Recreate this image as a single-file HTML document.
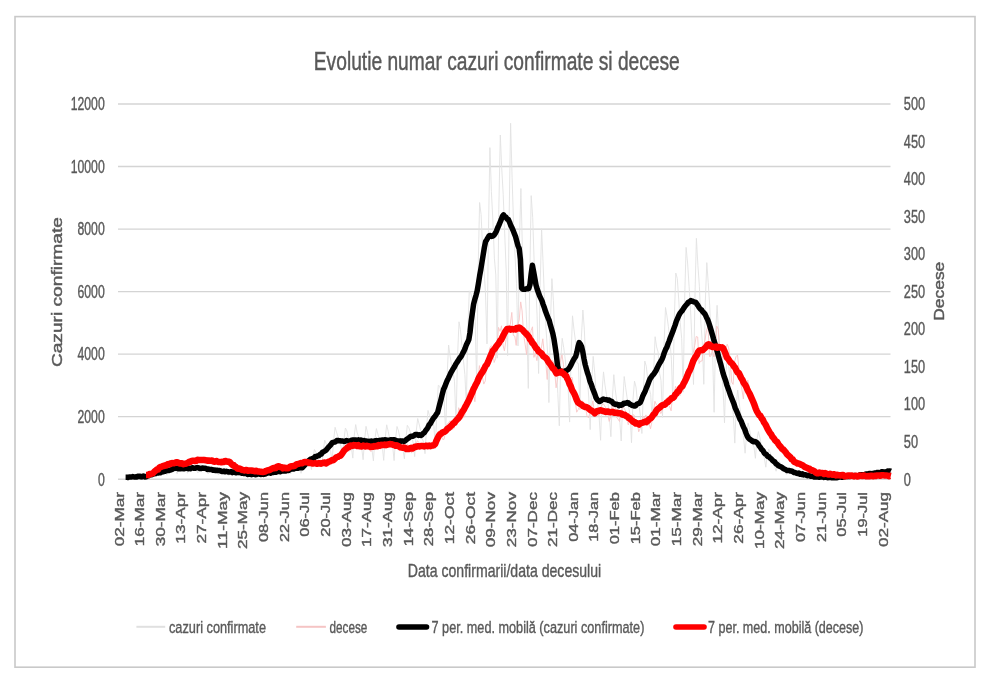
<!DOCTYPE html>
<html><head><meta charset="utf-8"><style>
html,body{margin:0;padding:0;background:#fff;}
svg{display:block;font-family:"Liberation Sans", sans-serif;filter:blur(0.45px);}
</style></head><body>
<svg width="1000" height="688" viewBox="0 0 1000 688">
<rect x="15" y="16.6" width="960" height="650.6" fill="#fff" stroke="#c9c9c9" stroke-width="1.6"/>
<line x1="118.0" y1="479.20" x2="890.5" y2="479.20" stroke="#d4d4d4" stroke-width="1.4"/>
<line x1="118.0" y1="416.67" x2="890.5" y2="416.67" stroke="#d4d4d4" stroke-width="1.4"/>
<line x1="118.0" y1="354.14" x2="890.5" y2="354.14" stroke="#d4d4d4" stroke-width="1.4"/>
<line x1="118.0" y1="291.61" x2="890.5" y2="291.61" stroke="#d4d4d4" stroke-width="1.4"/>
<line x1="118.0" y1="229.08" x2="890.5" y2="229.08" stroke="#d4d4d4" stroke-width="1.4"/>
<line x1="118.0" y1="166.55" x2="890.5" y2="166.55" stroke="#d4d4d4" stroke-width="1.4"/>
<line x1="118.0" y1="104.02" x2="890.5" y2="104.02" stroke="#d4d4d4" stroke-width="1.4"/>
<text x="313.80" y="69.80" font-size="26.00" fill="#595959" textLength="366.00" lengthAdjust="spacingAndGlyphs" stroke="#595959" stroke-width="0.45">Evolutie numar cazuri confirmate si decese</text>
<text x="104.70" y="485.50" font-size="17.50" fill="#595959" text-anchor="end" textLength="6.80" lengthAdjust="spacingAndGlyphs" stroke="#595959" stroke-width="0.38">0</text>
<text x="104.70" y="422.97" font-size="17.50" fill="#595959" text-anchor="end" textLength="27.20" lengthAdjust="spacingAndGlyphs" stroke="#595959" stroke-width="0.38">2000</text>
<text x="104.70" y="360.44" font-size="17.50" fill="#595959" text-anchor="end" textLength="27.20" lengthAdjust="spacingAndGlyphs" stroke="#595959" stroke-width="0.38">4000</text>
<text x="104.70" y="297.91" font-size="17.50" fill="#595959" text-anchor="end" textLength="27.20" lengthAdjust="spacingAndGlyphs" stroke="#595959" stroke-width="0.38">6000</text>
<text x="104.70" y="235.38" font-size="17.50" fill="#595959" text-anchor="end" textLength="27.20" lengthAdjust="spacingAndGlyphs" stroke="#595959" stroke-width="0.38">8000</text>
<text x="104.70" y="172.85" font-size="17.50" fill="#595959" text-anchor="end" textLength="34.00" lengthAdjust="spacingAndGlyphs" stroke="#595959" stroke-width="0.38">10000</text>
<text x="104.70" y="110.32" font-size="17.50" fill="#595959" text-anchor="end" textLength="34.00" lengthAdjust="spacingAndGlyphs" stroke="#595959" stroke-width="0.38">12000</text>
<text x="903.80" y="485.50" font-size="17.50" fill="#595959" textLength="7.10" lengthAdjust="spacingAndGlyphs" stroke="#595959" stroke-width="0.38">0</text>
<text x="903.80" y="447.98" font-size="17.50" fill="#595959" textLength="14.20" lengthAdjust="spacingAndGlyphs" stroke="#595959" stroke-width="0.38">50</text>
<text x="903.80" y="410.46" font-size="17.50" fill="#595959" textLength="21.30" lengthAdjust="spacingAndGlyphs" stroke="#595959" stroke-width="0.38">100</text>
<text x="903.80" y="372.94" font-size="17.50" fill="#595959" textLength="21.30" lengthAdjust="spacingAndGlyphs" stroke="#595959" stroke-width="0.38">150</text>
<text x="903.80" y="335.42" font-size="17.50" fill="#595959" textLength="21.30" lengthAdjust="spacingAndGlyphs" stroke="#595959" stroke-width="0.38">200</text>
<text x="903.80" y="297.90" font-size="17.50" fill="#595959" textLength="21.30" lengthAdjust="spacingAndGlyphs" stroke="#595959" stroke-width="0.38">250</text>
<text x="903.80" y="260.38" font-size="17.50" fill="#595959" textLength="21.30" lengthAdjust="spacingAndGlyphs" stroke="#595959" stroke-width="0.38">300</text>
<text x="903.80" y="222.86" font-size="17.50" fill="#595959" textLength="21.30" lengthAdjust="spacingAndGlyphs" stroke="#595959" stroke-width="0.38">350</text>
<text x="903.80" y="185.34" font-size="17.50" fill="#595959" textLength="21.30" lengthAdjust="spacingAndGlyphs" stroke="#595959" stroke-width="0.38">400</text>
<text x="903.80" y="147.82" font-size="17.50" fill="#595959" textLength="21.30" lengthAdjust="spacingAndGlyphs" stroke="#595959" stroke-width="0.38">450</text>
<text x="903.80" y="110.30" font-size="17.50" fill="#595959" textLength="21.30" lengthAdjust="spacingAndGlyphs" stroke="#595959" stroke-width="0.38">500</text>
<text x="123.50" y="492.00" font-size="11.90" fill="#595959" text-anchor="end" textLength="54.31" lengthAdjust="spacingAndGlyphs" transform="rotate(-90 123.50 492.00)" stroke="#595959" stroke-width="0.38">02-Mar</text>
<text x="144.15" y="492.00" font-size="11.90" fill="#595959" text-anchor="end" textLength="54.31" lengthAdjust="spacingAndGlyphs" transform="rotate(-90 144.15 492.00)" stroke="#595959" stroke-width="0.38">16-Mar</text>
<text x="164.80" y="492.00" font-size="11.90" fill="#595959" text-anchor="end" textLength="54.31" lengthAdjust="spacingAndGlyphs" transform="rotate(-90 164.80 492.00)" stroke="#595959" stroke-width="0.38">30-Mar</text>
<text x="185.45" y="492.00" font-size="11.90" fill="#595959" text-anchor="end" textLength="51.61" lengthAdjust="spacingAndGlyphs" transform="rotate(-90 185.45 492.00)" stroke="#595959" stroke-width="0.38">13-Apr</text>
<text x="206.10" y="492.00" font-size="11.90" fill="#595959" text-anchor="end" textLength="51.61" lengthAdjust="spacingAndGlyphs" transform="rotate(-90 206.10 492.00)" stroke="#595959" stroke-width="0.38">27-Apr</text>
<text x="226.75" y="492.00" font-size="11.90" fill="#595959" text-anchor="end" textLength="56.98" lengthAdjust="spacingAndGlyphs" transform="rotate(-90 226.75 492.00)" stroke="#595959" stroke-width="0.38">11-May</text>
<text x="247.40" y="492.00" font-size="11.90" fill="#595959" text-anchor="end" textLength="57.05" lengthAdjust="spacingAndGlyphs" transform="rotate(-90 247.40 492.00)" stroke="#595959" stroke-width="0.38">25-May</text>
<text x="268.05" y="492.00" font-size="11.90" fill="#595959" text-anchor="end" textLength="50.01" lengthAdjust="spacingAndGlyphs" transform="rotate(-90 268.05 492.00)" stroke="#595959" stroke-width="0.38">08-Jun</text>
<text x="288.70" y="492.00" font-size="11.90" fill="#595959" text-anchor="end" textLength="50.01" lengthAdjust="spacingAndGlyphs" transform="rotate(-90 288.70 492.00)" stroke="#595959" stroke-width="0.38">22-Jun</text>
<text x="309.35" y="492.00" font-size="11.90" fill="#595959" text-anchor="end" textLength="44.72" lengthAdjust="spacingAndGlyphs" transform="rotate(-90 309.35 492.00)" stroke="#595959" stroke-width="0.38">06-Jul</text>
<text x="330.00" y="492.00" font-size="11.90" fill="#595959" text-anchor="end" textLength="44.72" lengthAdjust="spacingAndGlyphs" transform="rotate(-90 330.00 492.00)" stroke="#595959" stroke-width="0.38">20-Jul</text>
<text x="350.65" y="492.00" font-size="11.90" fill="#595959" text-anchor="end" textLength="54.90" lengthAdjust="spacingAndGlyphs" transform="rotate(-90 350.65 492.00)" stroke="#595959" stroke-width="0.38">03-Aug</text>
<text x="371.30" y="492.00" font-size="11.90" fill="#595959" text-anchor="end" textLength="54.90" lengthAdjust="spacingAndGlyphs" transform="rotate(-90 371.30 492.00)" stroke="#595959" stroke-width="0.38">17-Aug</text>
<text x="391.95" y="492.00" font-size="11.90" fill="#595959" text-anchor="end" textLength="54.90" lengthAdjust="spacingAndGlyphs" transform="rotate(-90 391.95 492.00)" stroke="#595959" stroke-width="0.38">31-Aug</text>
<text x="412.60" y="492.00" font-size="11.90" fill="#595959" text-anchor="end" textLength="54.28" lengthAdjust="spacingAndGlyphs" transform="rotate(-90 412.60 492.00)" stroke="#595959" stroke-width="0.38">14-Sep</text>
<text x="433.25" y="492.00" font-size="11.90" fill="#595959" text-anchor="end" textLength="54.28" lengthAdjust="spacingAndGlyphs" transform="rotate(-90 433.25 492.00)" stroke="#595959" stroke-width="0.38">28-Sep</text>
<text x="453.90" y="492.00" font-size="11.90" fill="#595959" text-anchor="end" textLength="52.22" lengthAdjust="spacingAndGlyphs" transform="rotate(-90 453.90 492.00)" stroke="#595959" stroke-width="0.38">12-Oct</text>
<text x="474.55" y="492.00" font-size="11.90" fill="#595959" text-anchor="end" textLength="52.22" lengthAdjust="spacingAndGlyphs" transform="rotate(-90 474.55 492.00)" stroke="#595959" stroke-width="0.38">26-Oct</text>
<text x="495.20" y="492.00" font-size="11.90" fill="#595959" text-anchor="end" textLength="55.35" lengthAdjust="spacingAndGlyphs" transform="rotate(-90 495.20 492.00)" stroke="#595959" stroke-width="0.38">09-Nov</text>
<text x="515.85" y="492.00" font-size="11.90" fill="#595959" text-anchor="end" textLength="55.35" lengthAdjust="spacingAndGlyphs" transform="rotate(-90 515.85 492.00)" stroke="#595959" stroke-width="0.38">23-Nov</text>
<text x="536.50" y="492.00" font-size="11.90" fill="#595959" text-anchor="end" textLength="55.04" lengthAdjust="spacingAndGlyphs" transform="rotate(-90 536.50 492.00)" stroke="#595959" stroke-width="0.38">07-Dec</text>
<text x="557.15" y="492.00" font-size="11.90" fill="#595959" text-anchor="end" textLength="55.04" lengthAdjust="spacingAndGlyphs" transform="rotate(-90 557.15 492.00)" stroke="#595959" stroke-width="0.38">21-Dec</text>
<text x="577.80" y="492.00" font-size="11.90" fill="#595959" text-anchor="end" textLength="49.70" lengthAdjust="spacingAndGlyphs" transform="rotate(-90 577.80 492.00)" stroke="#595959" stroke-width="0.38">04-Jan</text>
<text x="598.45" y="492.00" font-size="11.90" fill="#595959" text-anchor="end" textLength="49.70" lengthAdjust="spacingAndGlyphs" transform="rotate(-90 598.45 492.00)" stroke="#595959" stroke-width="0.38">18-Jan</text>
<text x="619.10" y="492.00" font-size="11.90" fill="#595959" text-anchor="end" textLength="52.33" lengthAdjust="spacingAndGlyphs" transform="rotate(-90 619.10 492.00)" stroke="#595959" stroke-width="0.38">01-Feb</text>
<text x="639.75" y="492.00" font-size="11.90" fill="#595959" text-anchor="end" textLength="52.33" lengthAdjust="spacingAndGlyphs" transform="rotate(-90 639.75 492.00)" stroke="#595959" stroke-width="0.38">15-Feb</text>
<text x="660.40" y="492.00" font-size="11.90" fill="#595959" text-anchor="end" textLength="54.31" lengthAdjust="spacingAndGlyphs" transform="rotate(-90 660.40 492.00)" stroke="#595959" stroke-width="0.38">01-Mar</text>
<text x="681.05" y="492.00" font-size="11.90" fill="#595959" text-anchor="end" textLength="54.31" lengthAdjust="spacingAndGlyphs" transform="rotate(-90 681.05 492.00)" stroke="#595959" stroke-width="0.38">15-Mar</text>
<text x="701.70" y="492.00" font-size="11.90" fill="#595959" text-anchor="end" textLength="54.31" lengthAdjust="spacingAndGlyphs" transform="rotate(-90 701.70 492.00)" stroke="#595959" stroke-width="0.38">29-Mar</text>
<text x="722.35" y="492.00" font-size="11.90" fill="#595959" text-anchor="end" textLength="51.61" lengthAdjust="spacingAndGlyphs" transform="rotate(-90 722.35 492.00)" stroke="#595959" stroke-width="0.38">12-Apr</text>
<text x="743.00" y="492.00" font-size="11.90" fill="#595959" text-anchor="end" textLength="51.61" lengthAdjust="spacingAndGlyphs" transform="rotate(-90 743.00 492.00)" stroke="#595959" stroke-width="0.38">26-Apr</text>
<text x="763.65" y="492.00" font-size="11.90" fill="#595959" text-anchor="end" textLength="57.05" lengthAdjust="spacingAndGlyphs" transform="rotate(-90 763.65 492.00)" stroke="#595959" stroke-width="0.38">10-May</text>
<text x="784.30" y="492.00" font-size="11.90" fill="#595959" text-anchor="end" textLength="57.05" lengthAdjust="spacingAndGlyphs" transform="rotate(-90 784.30 492.00)" stroke="#595959" stroke-width="0.38">24-May</text>
<text x="804.95" y="492.00" font-size="11.90" fill="#595959" text-anchor="end" textLength="50.01" lengthAdjust="spacingAndGlyphs" transform="rotate(-90 804.95 492.00)" stroke="#595959" stroke-width="0.38">07-Jun</text>
<text x="825.60" y="492.00" font-size="11.90" fill="#595959" text-anchor="end" textLength="50.01" lengthAdjust="spacingAndGlyphs" transform="rotate(-90 825.60 492.00)" stroke="#595959" stroke-width="0.38">21-Jun</text>
<text x="846.25" y="492.00" font-size="11.90" fill="#595959" text-anchor="end" textLength="44.72" lengthAdjust="spacingAndGlyphs" transform="rotate(-90 846.25 492.00)" stroke="#595959" stroke-width="0.38">05-Jul</text>
<text x="866.90" y="492.00" font-size="11.90" fill="#595959" text-anchor="end" textLength="44.72" lengthAdjust="spacingAndGlyphs" transform="rotate(-90 866.90 492.00)" stroke="#595959" stroke-width="0.38">19-Jul</text>
<text x="887.55" y="492.00" font-size="11.90" fill="#595959" text-anchor="end" textLength="54.90" lengthAdjust="spacingAndGlyphs" transform="rotate(-90 887.55 492.00)" stroke="#595959" stroke-width="0.38">02-Aug</text>
<text x="62.00" y="367.10" font-size="14.90" fill="#595959" textLength="150.00" lengthAdjust="spacingAndGlyphs" transform="rotate(-90 62.00 367.10)" stroke="#595959" stroke-width="0.45">Cazuri confirmate</text>
<text x="944.00" y="320.70" font-size="14.20" fill="#595959" textLength="59.00" lengthAdjust="spacingAndGlyphs" transform="rotate(-90 944.00 320.70)" stroke="#595959" stroke-width="0.45">Decese</text>
<text x="407.80" y="576.90" font-size="17.90" fill="#595959" textLength="193.40" lengthAdjust="spacingAndGlyphs" stroke="#595959" stroke-width="0.38">Data confirmarii/data decesului</text>
<line x1="136.4" y1="626.8" x2="165.2" y2="626.8" stroke="#e0e0e0" stroke-width="2"/>
<text x="169.00" y="632.70" font-size="16.70" fill="#595959" textLength="97.00" lengthAdjust="spacingAndGlyphs" stroke="#595959" stroke-width="0.38">cazuri confirmate</text>
<line x1="296.2" y1="626.8" x2="325.9" y2="626.8" stroke="#f5c4c4" stroke-width="2"/>
<text x="329.50" y="632.70" font-size="16.70" fill="#595959" textLength="37.80" lengthAdjust="spacingAndGlyphs" stroke="#595959" stroke-width="0.38">decese</text>
<line x1="399" y1="627" x2="426.5" y2="627" stroke="#000" stroke-width="5.6" stroke-linecap="round"/>
<text x="431.50" y="632.70" font-size="16.70" fill="#595959" textLength="212.90" lengthAdjust="spacingAndGlyphs" stroke="#595959" stroke-width="0.38">7 per. med. mobilă (cazuri confirmate)</text>
<line x1="676" y1="627" x2="704" y2="627" stroke="#ff0000" stroke-width="5.6" stroke-linecap="round"/>
<text x="708.00" y="632.70" font-size="16.70" fill="#595959" textLength="155.50" lengthAdjust="spacingAndGlyphs" stroke="#595959" stroke-width="0.38">7 per. med. mobilă (decese)</text>
<path d="M125.6,478.2 L127.1,477.1 L128.5,476.4 L130.0,476.5 L131.5,476.8 L133.0,477.1 L134.4,477.4 L135.9,478.0 L137.4,476.7 L138.9,475.8 L140.3,475.9 L141.8,476.3 L143.3,476.7 L144.8,477.0 L146.2,477.8 L147.7,475.5 L149.2,474.1 L150.7,474.0 L152.1,474.2 L153.6,474.3 L155.1,475.1 L156.6,476.3 L158.0,472.8 L159.5,470.5 L161.0,470.4 L162.5,471.3 L163.9,471.6 L165.4,472.4 L166.9,475.1 L168.4,469.8 L169.8,466.6 L171.3,467.6 L172.8,468.5 L174.3,469.0 L175.7,471.0 L177.2,473.8 L178.7,468.0 L180.2,464.5 L181.6,466.4 L183.1,467.3 L184.6,469.1 L186.1,470.0 L187.5,473.3 L189.0,468.1 L190.5,464.5 L192.0,466.0 L193.4,467.0 L194.9,468.7 L196.4,470.2 L197.9,473.0 L199.3,467.9 L200.8,464.5 L202.3,466.1 L203.8,468.0 L205.2,469.8 L206.7,471.3 L208.2,473.9 L209.7,469.0 L211.1,466.1 L212.6,467.5 L214.1,469.7 L215.6,470.7 L217.0,471.8 L218.5,475.0 L220.0,470.3 L221.5,468.0 L222.9,469.1 L224.4,470.4 L225.9,472.1 L227.4,472.9 L228.8,475.6 L230.3,471.6 L231.8,469.6 L233.3,471.0 L234.7,471.9 L236.2,473.0 L237.7,473.8 L239.2,476.0 L240.6,472.9 L242.1,471.1 L243.6,472.2 L245.1,473.3 L246.5,474.0 L248.0,475.1 L249.5,476.8 L251.0,474.2 L252.4,472.6 L253.9,473.4 L255.4,473.8 L256.9,474.4 L258.3,475.0 L259.8,476.4 L261.3,474.0 L262.8,472.2 L264.2,472.7 L265.7,473.3 L267.2,473.7 L268.7,474.4 L270.1,475.9 L271.6,472.2 L273.1,469.9 L274.6,470.6 L276.0,471.5 L277.5,472.5 L279.0,473.1 L280.5,474.9 L281.9,471.0 L283.4,468.4 L284.9,468.8 L286.4,470.1 L287.8,470.7 L289.3,471.5 L290.8,473.8 L292.3,469.0 L293.8,465.3 L295.2,466.0 L296.7,467.3 L298.2,468.6 L299.7,469.8 L301.1,473.3 L302.6,466.3 L304.1,460.9 L305.6,460.3 L307.0,460.9 L308.5,462.5 L310.0,462.7 L311.5,469.5 L312.9,457.7 L314.4,449.5 L315.9,452.2 L317.4,454.5 L318.8,455.4 L320.3,459.8 L321.8,466.5 L323.3,451.4 L324.7,440.1 L326.2,443.8 L327.7,447.0 L329.2,447.8 L330.6,451.2 L332.1,461.3 L333.6,440.3 L335.1,427.3 L336.5,432.2 L338.0,436.6 L339.5,442.2 L341.0,446.5 L342.4,457.6 L343.9,440.1 L345.4,428.0 L346.9,431.0 L348.3,438.3 L349.8,441.5 L351.3,446.5 L352.8,458.1 L354.2,436.0 L355.7,424.6 L357.2,432.9 L358.7,436.7 L360.1,442.4 L361.6,447.3 L363.1,459.7 L364.6,439.8 L366.0,426.3 L367.5,432.6 L369.0,439.3 L370.5,444.3 L371.9,449.0 L373.4,460.8 L374.9,439.2 L376.4,428.6 L377.8,433.9 L379.3,439.0 L380.8,443.7 L382.3,446.4 L383.7,460.4 L385.2,438.3 L386.7,424.8 L388.2,431.4 L389.6,438.1 L391.1,440.4 L392.6,445.5 L394.1,460.6 L395.5,439.3 L397.0,426.5 L398.5,431.0 L400.0,438.2 L401.4,442.2 L402.9,449.1 L404.4,458.8 L405.9,439.1 L407.3,425.3 L408.8,427.7 L410.3,432.0 L411.8,436.9 L413.2,443.2 L414.7,456.6 L416.2,431.7 L417.7,418.5 L419.1,424.0 L420.6,430.4 L422.1,438.6 L423.6,442.1 L425.0,453.7 L426.5,428.8 L428.0,410.4 L429.5,415.6 L430.9,417.4 L432.4,420.6 L433.9,426.2 L435.4,448.6 L436.8,409.2 L438.3,385.3 L439.8,386.3 L441.3,392.4 L442.7,392.8 L444.2,400.1 L445.7,434.3 L447.2,374.2 L448.6,345.0 L450.1,356.2 L451.6,365.5 L453.1,372.1 L454.5,381.2 L456.0,423.6 L457.5,357.6 L459.0,321.8 L460.4,329.6 L461.9,345.1 L463.4,360.0 L464.9,374.6 L466.3,405.5 L467.8,330.3 L469.3,290.8 L470.8,293.0 L472.2,298.6 L473.7,307.1 L475.2,321.8 L476.7,384.3 L478.1,271.8 L479.6,202.5 L481.1,214.6 L482.6,248.6 L484.0,268.4 L485.5,294.0 L487.0,343.9 L488.5,230.4 L489.9,147.6 L491.4,191.7 L492.9,221.1 L494.4,258.2 L495.8,275.0 L497.3,358.1 L498.8,209.6 L500.3,135.0 L501.7,167.7 L503.2,194.3 L504.7,233.1 L506.2,271.1 L507.6,355.7 L509.1,219.6 L510.6,123.2 L512.1,177.8 L513.5,222.3 L515.0,255.1 L516.5,283.3 L518.0,345.9 L519.4,243.9 L520.9,188.5 L522.4,248.5 L523.9,276.0 L525.3,292.8 L526.8,325.1 L528.3,388.4 L529.8,276.1 L531.2,195.6 L532.7,217.4 L534.2,263.2 L535.7,284.4 L537.1,315.9 L538.6,373.5 L540.1,288.4 L541.6,228.9 L543.0,261.5 L544.5,300.3 L546.0,328.7 L547.5,351.1 L548.9,402.6 L550.4,323.5 L551.9,278.6 L553.4,300.5 L554.8,336.4 L556.3,360.6 L557.8,393.4 L559.3,425.8 L560.7,360.7 L562.2,338.3 L563.7,347.6 L565.2,359.1 L566.6,372.9 L568.1,387.0 L569.6,422.1 L571.1,355.3 L572.5,315.8 L574.0,329.8 L575.5,341.0 L577.0,363.0 L578.4,363.5 L579.9,410.0 L581.4,337.1 L582.9,310.0 L584.3,329.1 L585.8,363.5 L587.3,376.5 L588.8,398.1 L590.2,429.6 L591.7,382.5 L593.2,356.4 L594.7,372.5 L596.1,392.5 L597.6,403.0 L599.1,416.7 L600.6,440.3 L602.0,393.0 L603.5,371.9 L605.0,385.1 L606.5,394.6 L607.9,401.9 L609.4,416.6 L610.9,436.7 L612.4,398.0 L613.8,374.7 L615.3,389.9 L616.8,401.4 L618.3,411.3 L619.7,419.6 L621.2,441.0 L622.7,404.1 L624.2,376.5 L625.6,387.2 L627.1,398.0 L628.6,406.9 L630.1,414.3 L631.5,442.8 L633.0,399.2 L634.5,381.1 L636.0,387.1 L637.4,401.2 L638.9,403.5 L640.4,416.3 L641.9,433.5 L643.3,393.3 L644.8,361.1 L646.3,366.3 L647.8,380.2 L649.2,388.2 L650.7,394.7 L652.2,421.0 L653.7,370.7 L655.1,336.7 L656.6,346.9 L658.1,352.0 L659.6,373.4 L661.0,380.4 L662.5,417.4 L664.0,345.8 L665.5,307.5 L666.9,315.8 L668.4,326.6 L669.9,341.0 L671.4,359.2 L672.8,402.2 L674.3,318.7 L675.8,273.0 L677.3,278.5 L678.7,299.1 L680.2,322.3 L681.7,338.6 L683.2,392.1 L684.6,300.6 L686.1,247.4 L687.6,263.0 L689.1,286.5 L690.5,309.1 L692.0,341.3 L693.5,384.5 L695.0,294.1 L696.4,238.3 L697.9,265.4 L699.4,286.2 L700.9,323.8 L702.3,341.8 L703.8,384.3 L705.3,302.3 L706.8,262.6 L708.2,282.4 L709.7,305.3 L711.2,339.2 L712.7,356.0 L714.1,412.3 L715.6,332.8 L717.1,305.3 L718.6,332.9 L720.0,348.6 L721.5,371.3 L723.0,387.3 L724.5,422.9 L725.9,374.0 L727.4,352.6 L728.9,366.8 L730.4,391.6 L731.8,399.6 L733.3,414.6 L734.8,443.1 L736.3,404.4 L737.7,390.0 L739.2,402.9 L740.7,413.5 L742.2,428.2 L743.6,437.6 L745.1,453.2 L746.6,434.4 L748.1,422.9 L749.5,429.3 L751.0,437.4 L752.5,444.1 L754.0,447.1 L755.4,458.3 L756.9,439.4 L758.4,431.6 L759.9,437.8 L761.3,445.2 L762.8,453.1 L764.3,458.0 L765.8,467.2 L767.2,455.4 L768.7,449.1 L770.2,452.8 L771.7,457.3 L773.1,462.5 L774.6,465.8 L776.1,471.2 L777.6,463.7 L779.0,460.9 L780.5,463.5 L782.0,467.2 L783.5,468.5 L784.9,471.4 L786.4,474.4 L787.9,469.8 L789.4,467.8 L790.8,469.9 L792.3,471.1 L793.8,472.6 L795.3,474.1 L796.7,476.1 L798.2,473.1 L799.7,471.5 L801.2,472.9 L802.6,473.8 L804.1,474.7 L805.6,475.8 L807.1,477.3 L808.5,475.2 L810.0,474.5 L811.5,475.4 L813.0,476.2 L814.4,476.6 L815.9,477.2 L817.4,478.1 L818.9,477.1 L820.3,476.4 L821.8,476.8 L823.3,477.1 L824.8,477.5 L826.2,477.8 L827.7,478.4 L829.2,477.6 L830.7,477.1 L832.1,477.2 L833.6,477.3 L835.1,477.5 L836.6,477.6 L838.0,478.2 L839.5,476.9 L841.0,476.2 L842.5,476.4 L843.9,476.7 L845.4,476.8 L846.9,477.1 L848.4,477.7 L849.8,476.2 L851.3,475.0 L852.8,475.3 L854.3,475.7 L855.7,475.8 L857.2,476.3 L858.7,477.2 L860.2,475.0 L861.6,473.6 L863.1,474.1 L864.6,474.3 L866.1,474.7 L867.5,475.1 L869.0,476.2 L870.5,473.6 L872.0,471.3 L873.4,471.9 L874.9,472.8 L876.4,473.3 L877.9,474.1 L879.3,475.5 L880.8,472.2 L882.3,469.6 L883.8,470.5 L885.2,470.9 L886.7,471.7 L888.2,472.7 L889.7,475.0 L890.8,470.9" fill="none" stroke="#e2e2e2" stroke-width="0.9"/>
<path d="M146.0,474.9 L147.5,474.9 L148.9,474.0 L150.4,473.7 L151.9,473.3 L153.4,472.7 L154.8,472.3 L156.3,469.8 L157.8,468.2 L159.3,468.0 L160.7,466.3 L162.2,466.7 L163.7,467.3 L165.2,466.9 L166.6,465.4 L168.1,463.6 L169.6,462.4 L171.1,461.6 L172.5,462.4 L174.0,462.9 L175.5,464.4 L177.0,461.8 L178.4,461.9 L179.9,461.2 L181.4,461.4 L182.9,465.2 L184.3,465.1 L185.8,465.0 L187.3,462.2 L188.8,462.1 L190.2,458.4 L191.7,461.0 L193.2,461.7 L194.7,463.2 L196.1,462.6 L197.6,459.3 L199.1,460.5 L200.6,459.2 L202.0,458.5 L203.5,460.2 L205.0,461.0 L206.5,462.9 L207.9,459.4 L209.4,459.0 L210.9,458.0 L212.4,460.9 L213.8,461.6 L215.3,464.2 L216.8,462.4 L218.3,460.6 L219.7,460.1 L221.2,461.4 L222.7,461.0 L224.2,461.7 L225.6,462.7 L227.1,464.2 L228.6,461.2 L230.1,462.6 L231.5,462.1 L233.0,464.9 L234.5,466.3 L236.0,469.1 L237.4,470.1 L238.9,468.7 L240.4,469.1 L241.9,468.3 L243.3,469.8 L244.8,470.4 L246.3,471.5 L247.8,471.5 L249.2,470.4 L250.7,470.0 L252.2,469.7 L253.7,469.7 L255.1,471.5 L256.6,471.2 L258.1,472.4 L259.6,470.7 L261.0,471.1 L262.5,470.9 L264.0,470.7 L265.5,470.5 L266.9,470.5 L268.4,471.0 L269.9,470.3 L271.4,469.2 L272.8,466.9 L274.3,466.9 L275.8,467.3 L277.3,468.5 L278.7,468.0 L280.2,468.1 L281.7,467.8 L283.2,467.1 L284.7,466.8 L286.1,468.5 L287.6,468.3 L289.1,469.5 L290.6,467.2 L292.0,466.8 L293.5,465.2 L295.0,465.5 L296.5,464.3 L297.9,466.0 L299.4,465.5 L300.9,463.0 L302.4,461.3 L303.8,459.5 L305.3,461.1 L306.8,462.8 L308.3,462.9 L309.7,464.8 L311.2,463.6 L312.7,462.0 L314.2,462.4 L315.6,462.7 L317.1,463.8 L318.6,464.6 L320.1,465.2 L321.5,463.3 L323.0,462.6 L324.5,462.6 L326.0,461.2 L327.4,463.9 L328.9,463.0 L330.4,462.7 L331.9,460.7 L333.3,459.8 L334.8,458.2 L336.3,457.1 L337.8,458.2 L339.2,458.0 L340.7,458.5 L342.2,452.2 L343.7,450.4 L345.1,449.3 L346.6,447.2 L348.1,445.6 L349.6,451.2 L351.0,448.1 L352.5,442.9 L354.0,444.8 L355.5,441.7 L356.9,444.4 L358.4,447.5 L359.9,448.0 L361.4,448.8 L362.8,447.1 L364.3,444.8 L365.8,442.8 L367.3,443.0 L368.7,449.4 L370.2,451.2 L371.7,451.1 L373.2,447.5 L374.6,443.2 L376.1,443.0 L377.6,441.8 L379.1,446.7 L380.5,449.1 L382.0,447.5 L383.5,447.3 L385.0,440.8 L386.4,439.5 L387.9,443.5 L389.4,446.2 L390.9,445.4 L392.3,446.3 L393.8,444.1 L395.3,446.4 L396.8,441.0 L398.2,446.6 L399.7,446.7 L401.2,449.4 L402.7,448.6 L404.1,447.3 L405.6,449.6 L407.1,443.8 L408.6,446.0 L410.0,448.8 L411.5,453.1 L413.0,449.7 L414.5,447.7 L415.9,444.6 L417.4,440.7 L418.9,442.3 L420.4,449.2 L421.8,447.4 L423.3,449.8 L424.8,444.8 L426.3,445.4 L427.7,442.9 L429.2,444.1 L430.7,448.3 L432.2,449.1 L433.6,447.4 L435.1,446.2 L436.6,441.6 L438.1,431.5 L439.5,431.0 L441.0,434.1 L442.5,439.3 L444.0,439.4 L445.4,432.4 L446.9,424.2 L448.4,423.0 L449.9,420.8 L451.3,429.5 L452.8,429.5 L454.3,428.0 L455.8,417.8 L457.2,420.5 L458.7,407.7 L460.2,411.7 L461.7,419.3 L463.1,417.0 L464.6,417.0 L466.1,403.5 L467.6,394.1 L469.0,391.3 L470.5,388.6 L472.0,396.2 L473.5,392.9 L474.9,401.7 L476.4,379.8 L477.9,381.7 L479.4,365.6 L480.8,373.1 L482.3,376.7 L483.8,384.1 L485.3,380.9 L486.7,362.8 L488.2,356.1 L489.7,348.0 L491.2,345.8 L492.6,347.1 L494.1,362.5 L495.6,358.6 L497.1,345.6 L498.5,327.4 L500.0,331.3 L501.5,325.8 L503.0,345.1 L504.4,350.8 L505.9,340.4 L507.4,326.7 L508.9,328.6 L510.3,324.4 L511.8,312.4 L513.3,335.4 L514.8,336.1 L516.2,345.4 L517.7,325.2 L519.2,320.0 L520.7,301.9 L522.1,310.9 L523.6,334.9 L525.1,344.2 L526.6,354.5 L528.0,330.2 L529.5,341.5 L531.0,330.8 L532.5,326.8 L533.9,357.4 L535.4,353.2 L536.9,360.6 L538.4,350.0 L539.8,351.0 L541.3,348.4 L542.8,338.8 L544.3,353.6 L545.7,361.5 L547.2,379.5 L548.7,356.7 L550.2,364.7 L551.6,360.4 L553.1,361.2 L554.6,370.9 L556.1,387.8 L557.5,379.2 L559.0,371.2 L560.5,360.9 L562.0,354.8 L563.4,364.3 L564.9,379.3 L566.4,377.2 L567.9,386.3 L569.3,386.5 L570.8,377.7 L572.3,377.6 L573.8,390.8 L575.2,400.9 L576.7,412.2 L578.2,409.5 L579.7,406.2 L581.1,403.7 L582.6,400.8 L584.1,405.9 L585.6,408.3 L587.0,415.8 L588.5,417.9 L590.0,411.9 L591.5,407.6 L592.9,400.8 L594.4,412.3 L595.9,409.9 L597.4,413.0 L598.8,416.2 L600.3,409.3 L601.8,405.1 L603.3,403.8 L604.7,405.8 L606.2,408.8 L607.7,414.4 L609.2,421.4 L610.6,417.0 L612.1,404.9 L613.6,407.3 L615.1,405.7 L616.5,417.2 L618.0,419.0 L619.5,421.5 L621.0,411.4 L622.4,406.9 L623.9,407.8 L625.4,410.6 L626.9,419.0 L628.3,424.9 L629.8,420.1 L631.3,423.4 L632.8,414.6 L634.2,415.2 L635.7,423.6 L637.2,421.0 L638.7,431.8 L640.1,428.7 L641.6,426.7 L643.1,416.1 L644.6,418.3 L646.0,414.9 L647.5,426.0 L649.0,422.8 L650.5,428.8 L651.9,422.0 L653.4,411.9 L654.9,401.3 L656.4,404.7 L657.8,406.0 L659.3,409.9 L660.8,413.6 L662.3,410.6 L663.7,401.4 L665.2,400.0 L666.7,397.9 L668.2,404.8 L669.6,406.5 L671.1,410.8 L672.6,394.9 L674.1,394.1 L675.5,386.3 L677.0,393.4 L678.5,392.9 L680.0,395.5 L681.4,389.5 L682.9,384.2 L684.4,383.7 L685.9,371.9 L687.3,372.1 L688.8,371.0 L690.3,369.8 L691.8,367.9 L693.2,353.1 L694.7,345.6 L696.2,336.5 L697.7,337.0 L699.1,363.5 L700.6,361.0 L702.1,361.0 L703.6,345.5 L705.0,340.2 L706.5,330.2 L708.0,326.7 L709.5,356.5 L710.9,356.1 L712.4,350.2 L713.9,357.0 L715.4,350.0 L716.8,326.1 L718.3,329.5 L719.8,359.9 L721.3,368.0 L722.7,354.3 L724.2,346.8 L725.7,348.9 L727.2,344.2 L728.6,347.8 L730.1,358.2 L731.6,381.9 L733.1,384.4 L734.5,361.9 L736.0,356.6 L737.5,355.1 L739.0,369.0 L740.4,381.1 L741.9,389.5 L743.4,399.0 L744.9,380.3 L746.3,387.1 L747.8,380.1 L749.3,387.6 L750.8,400.0 L752.2,403.5 L753.7,411.2 L755.2,409.8 L756.7,403.5 L758.1,410.0 L759.6,414.9 L761.1,420.9 L762.6,424.6 L764.0,425.3 L765.5,426.3 L767.0,427.5 L768.5,423.8 L769.9,431.5 L771.4,435.8 L772.9,442.4 L774.4,440.8 L775.8,442.9 L777.3,442.8 L778.8,442.1 L780.3,445.1 L781.7,447.5 L783.2,451.3 L784.7,453.0 L786.2,453.2 L787.6,455.5 L789.1,453.0 L790.6,457.4 L792.1,460.5 L793.5,462.5 L795.0,462.4 L796.5,463.1 L798.0,463.2 L799.4,461.7 L800.9,462.9 L802.4,466.2 L803.9,468.2 L805.3,467.8 L806.8,467.4 L808.3,468.5 L809.8,467.9 L811.2,469.7 L812.7,471.3 L814.2,472.1 L815.7,472.7 L817.1,472.9 L818.6,472.4 L820.1,472.9 L821.6,472.9 L823.0,473.6 L824.5,474.3 L826.0,473.8 L827.5,474.1 L828.9,474.1 L830.4,473.5 L831.9,473.8 L833.4,474.4 L834.8,475.3 L836.3,475.2 L837.8,475.5 L839.3,475.2 L840.7,475.0 L842.2,475.6 L843.7,475.9 L845.2,475.9 L846.6,475.9 L848.1,475.6 L849.6,475.4 L851.1,475.5 L852.5,475.7 L854.0,476.1 L855.5,476.3 L857.0,476.0 L858.4,476.2 L859.9,476.0 L861.4,475.7 L862.9,476.0 L864.3,476.1 L865.8,476.4 L867.3,476.4 L868.8,475.9 L870.2,475.7 L871.7,475.5 L873.2,475.5 L874.7,475.9 L876.1,475.8 L877.6,476.3 L879.1,475.9 L880.6,475.8 L882.0,475.5 L883.5,475.3 L885.0,475.5 L886.5,475.9 L887.9,476.2 L889.4,475.7 L890.8,475.4" fill="none" stroke="#f8c6c6" stroke-width="0.9"/>
<path d="M125.6,477.2 L126.8,477.2 L128.0,477.5 L129.2,477.0 L130.4,477.0 L131.6,477.0 L132.8,476.6 L134.0,476.9 L135.2,476.9 L136.4,477.1 L137.6,476.3 L138.8,476.5 L140.0,476.2 L141.2,476.9 L142.4,476.7 L143.6,476.0 L144.8,476.9 L146.0,476.8 L147.2,476.1 L148.4,475.8 L149.6,475.0 L150.8,474.5 L152.0,474.7 L153.2,473.9 L154.4,473.7 L155.6,473.5 L156.8,472.9 L158.0,473.0 L159.2,472.7 L160.4,472.7 L161.6,472.1 L162.8,471.9 L164.0,471.4 L165.2,471.2 L166.4,470.7 L167.6,470.2 L168.8,470.5 L170.0,470.2 L171.2,469.7 L172.4,469.3 L173.6,468.5 L174.8,468.3 L176.0,468.3 L177.2,468.1 L178.4,468.8 L179.6,468.4 L180.8,468.8 L182.0,468.3 L183.2,468.8 L184.4,468.7 L185.6,467.8 L186.8,468.0 L188.0,468.7 L189.2,468.2 L190.4,468.7 L191.6,468.1 L192.8,467.7 L194.0,468.2 L195.2,468.3 L196.4,467.8 L197.6,467.6 L198.8,467.9 L200.0,468.6 L201.2,468.5 L202.4,468.0 L203.6,468.2 L204.8,468.3 L206.0,468.5 L207.2,469.4 L208.4,469.0 L209.6,469.6 L210.8,469.6 L212.0,469.6 L213.2,470.3 L214.4,469.9 L215.6,470.6 L216.8,470.2 L218.0,470.6 L219.2,470.5 L220.4,470.7 L221.6,471.5 L222.8,471.5 L224.0,471.1 L225.2,471.8 L226.4,471.3 L227.6,471.6 L228.8,472.1 L230.0,472.0 L231.2,471.6 L232.4,472.6 L233.6,472.0 L234.8,472.1 L236.0,472.8 L237.2,472.4 L238.4,472.5 L239.6,472.5 L240.8,472.6 L242.0,473.3 L243.2,473.1 L244.4,473.6 L245.6,473.6 L246.8,473.8 L248.0,474.5 L249.2,474.1 L250.4,474.4 L251.6,474.7 L252.8,474.0 L254.0,474.0 L255.2,474.7 L256.4,474.5 L257.6,473.9 L258.8,473.8 L260.0,474.3 L261.2,474.5 L262.4,473.7 L263.6,474.4 L264.8,474.1 L266.0,473.6 L267.2,473.2 L268.4,472.7 L269.6,472.4 L270.8,473.2 L272.0,472.2 L273.2,472.5 L274.4,471.9 L275.6,472.3 L276.8,471.9 L278.0,471.5 L279.2,471.3 L280.4,471.8 L281.6,471.0 L282.8,471.0 L284.0,471.1 L285.2,471.1 L286.4,470.6 L287.6,470.1 L288.8,470.5 L290.0,469.5 L291.2,469.1 L292.4,469.1 L293.6,469.0 L294.8,468.4 L296.0,468.3 L297.2,468.2 L298.4,468.2 L299.6,467.5 L300.8,467.5 L302.0,467.8 L303.2,466.8 L304.4,465.4 L305.6,464.3 L306.8,463.1 L308.0,461.5 L309.2,460.3 L310.4,459.2 L311.6,459.0 L312.8,458.3 L314.0,458.0 L315.2,456.5 L316.4,456.6 L317.6,455.9 L318.8,455.6 L320.0,454.5 L321.2,454.2 L322.4,452.3 L323.6,451.8 L324.8,451.0 L326.0,450.2 L327.2,448.7 L328.4,447.3 L329.6,446.0 L330.8,444.8 L332.0,442.9 L333.2,442.4 L334.4,442.1 L335.6,441.6 L336.8,440.6 L338.0,440.5 L339.2,440.8 L340.4,440.8 L341.6,441.1 L342.8,441.1 L344.0,441.4 L345.2,441.3 L346.4,440.5 L347.6,440.9 L348.8,441.1 L350.0,440.8 L351.2,440.5 L352.4,439.9 L353.6,440.1 L354.8,440.0 L356.0,439.9 L357.2,440.5 L358.4,439.8 L359.6,440.6 L360.8,440.0 L362.0,440.7 L363.2,440.7 L364.4,440.6 L365.6,441.2 L366.8,441.1 L368.0,441.3 L369.2,441.7 L370.4,441.2 L371.6,441.1 L372.8,441.3 L374.0,441.5 L375.2,440.8 L376.4,440.6 L377.6,441.1 L378.8,440.7 L380.0,440.3 L381.2,440.6 L382.4,440.0 L383.6,440.3 L384.8,439.8 L386.0,439.9 L387.2,440.3 L388.4,440.3 L389.6,440.3 L390.8,439.7 L392.0,439.9 L393.2,439.8 L394.4,439.8 L395.6,440.3 L396.8,440.8 L398.0,440.9 L399.2,440.9 L400.4,441.4 L401.6,440.9 L402.8,441.0 L404.0,441.5 L405.2,440.7 L406.4,439.6 L407.6,438.8 L408.8,438.0 L410.0,436.9 L411.2,436.2 L412.4,436.3 L413.6,435.9 L414.8,434.9 L416.0,434.4 L417.2,434.5 L418.4,435.4 L419.6,434.7 L420.8,435.5 L422.0,434.9 L423.2,433.4 L424.4,432.7 L425.6,430.7 L426.8,429.1 L428.0,427.3 L429.2,424.8 L430.4,423.6 L431.6,421.2 L432.8,419.3 L434.0,417.4 L435.2,416.2 L436.4,414.2 L437.6,412.6 L438.8,407.9 L440.0,403.3 L441.2,398.7 L442.4,393.7 L443.6,389.2 L444.8,386.7 L446.0,383.6 L447.2,380.6 L448.4,378.2 L449.6,375.6 L450.8,372.9 L452.0,370.8 L453.2,368.7 L454.4,366.9 L455.6,364.5 L456.8,362.6 L458.0,360.9 L459.2,358.8 L460.4,357.4 L461.6,355.7 L462.8,353.0 L464.0,351.0 L465.2,348.1 L466.4,344.7 L467.6,342.3 L468.8,339.7 L470.0,332.4 L471.2,321.1 L472.4,312.6 L473.6,304.1 L474.8,299.5 L476.0,295.4 L477.2,290.8 L478.4,283.8 L479.6,276.1 L480.8,269.4 L482.0,262.1 L483.2,254.6 L484.4,247.3 L485.6,241.5 L486.8,239.7 L488.0,237.7 L489.2,235.7 L490.4,235.5 L491.6,236.4 L492.8,236.1 L494.0,235.1 L495.2,233.4 L496.4,231.2 L497.6,228.0 L498.8,225.4 L500.0,222.5 L501.2,219.7 L502.4,216.3 L503.6,214.9 L504.8,216.8 L506.0,217.2 L507.2,219.1 L508.4,219.6 L509.6,222.3 L510.8,225.6 L512.0,227.8 L513.2,230.6 L514.4,233.8 L515.6,236.8 L516.8,241.4 L518.0,245.7 L519.2,248.6 L520.4,259.2 L521.6,288.1 L522.8,289.3 L524.0,289.2 L525.2,289.2 L526.4,288.7 L527.6,288.8 L528.8,288.4 L530.0,284.4 L531.2,273.6 L532.4,265.2 L533.6,271.6 L534.8,278.3 L536.0,285.0 L537.2,289.2 L538.4,292.5 L539.6,295.9 L540.8,298.4 L542.0,300.9 L543.2,304.6 L544.4,307.8 L545.6,311.6 L546.8,314.7 L548.0,317.9 L549.2,320.5 L550.4,325.1 L551.6,329.2 L552.8,333.5 L554.0,339.3 L555.2,347.2 L556.4,355.2 L557.6,366.4 L558.8,369.9 L560.0,370.8 L561.2,371.2 L562.4,372.2 L563.6,372.0 L564.8,371.0 L566.0,370.8 L567.2,370.1 L568.4,369.2 L569.6,367.5 L570.8,365.4 L572.0,362.8 L573.2,360.5 L574.4,358.3 L575.6,356.7 L576.8,352.5 L578.0,346.8 L579.2,342.6 L580.4,344.1 L581.6,346.6 L582.8,351.9 L584.0,358.7 L585.2,364.6 L586.4,369.0 L587.6,373.2 L588.8,376.7 L590.0,381.2 L591.2,384.2 L592.4,387.9 L593.6,390.9 L594.8,394.0 L596.0,397.6 L597.2,399.7 L598.4,400.8 L599.6,401.5 L600.8,400.9 L602.0,399.8 L603.2,399.1 L604.4,399.4 L605.6,399.6 L606.8,399.7 L608.0,400.2 L609.2,400.1 L610.4,401.0 L611.6,401.3 L612.8,402.8 L614.0,403.8 L615.2,404.4 L616.4,404.2 L617.6,404.6 L618.8,405.6 L620.0,404.8 L621.2,405.2 L622.4,404.7 L623.6,403.5 L624.8,403.2 L626.0,403.3 L627.2,402.5 L628.4,402.9 L629.6,404.3 L630.8,404.5 L632.0,405.5 L633.2,405.4 L634.4,406.1 L635.6,405.6 L636.8,404.2 L638.0,403.6 L639.2,403.4 L640.4,402.2 L641.6,399.5 L642.8,395.9 L644.0,393.6 L645.2,391.1 L646.4,387.9 L647.6,385.2 L648.8,381.8 L650.0,378.9 L651.2,377.2 L652.4,375.4 L653.6,374.2 L654.8,372.4 L656.0,370.7 L657.2,367.9 L658.4,365.6 L659.6,363.2 L660.8,361.4 L662.0,359.2 L663.2,356.2 L664.4,352.4 L665.6,349.4 L666.8,347.3 L668.0,343.8 L669.2,341.0 L670.4,337.5 L671.6,334.5 L672.8,331.4 L674.0,328.1 L675.2,324.9 L676.4,321.0 L677.6,318.3 L678.8,315.5 L680.0,313.2 L681.2,311.8 L682.4,310.4 L683.6,308.4 L684.8,306.7 L686.0,305.1 L687.2,303.9 L688.4,302.1 L689.6,301.8 L690.8,300.6 L692.0,301.0 L693.2,301.7 L694.4,302.0 L695.6,302.2 L696.8,303.9 L698.0,305.5 L699.2,307.6 L700.4,309.1 L701.6,310.0 L702.8,311.9 L704.0,312.9 L705.2,314.5 L706.4,317.2 L707.6,319.5 L708.8,322.7 L710.0,326.6 L711.2,330.6 L712.4,334.8 L713.6,339.1 L714.8,343.0 L716.0,347.6 L717.2,351.3 L718.4,355.9 L719.6,360.4 L720.8,364.3 L722.0,369.1 L723.2,373.7 L724.4,377.3 L725.6,380.5 L726.8,384.8 L728.0,388.2 L729.2,391.4 L730.4,395.0 L731.6,398.0 L732.8,401.1 L734.0,404.1 L735.2,407.9 L736.4,410.5 L737.6,413.3 L738.8,416.2 L740.0,419.2 L741.2,421.1 L742.4,424.4 L743.6,427.3 L744.8,429.5 L746.0,433.0 L747.2,436.0 L748.4,438.0 L749.6,439.1 L750.8,439.9 L752.0,440.9 L753.2,441.7 L754.4,441.5 L755.6,441.7 L756.8,442.5 L758.0,443.8 L759.2,446.0 L760.4,447.3 L761.6,449.3 L762.8,450.3 L764.0,452.6 L765.2,454.0 L766.4,454.3 L767.6,456.3 L768.8,456.6 L770.0,458.0 L771.2,458.8 L772.4,460.2 L773.6,461.4 L774.8,461.9 L776.0,463.9 L777.2,464.5 L778.4,465.6 L779.6,466.3 L780.8,466.8 L782.0,467.4 L783.2,468.5 L784.4,469.1 L785.6,469.5 L786.8,470.5 L788.0,470.4 L789.2,470.4 L790.4,471.0 L791.6,471.1 L792.8,471.6 L794.0,472.5 L795.2,472.5 L796.4,473.3 L797.6,473.4 L798.8,473.0 L800.0,474.2 L801.2,474.4 L802.4,473.8 L803.6,474.9 L804.8,474.7 L806.0,475.0 L807.2,475.7 L808.4,475.2 L809.6,475.7 L810.8,476.3 L812.0,476.3 L813.2,476.3 L814.4,477.0 L815.6,477.1 L816.8,477.1 L818.0,476.7 L819.2,477.3 L820.4,477.1 L821.6,477.0 L822.8,476.9 L824.0,477.4 L825.2,477.1 L826.4,477.4 L827.6,477.7 L828.8,477.6 L830.0,477.4 L831.2,477.7 L832.4,477.5 L833.6,477.8 L834.8,477.4 L836.0,477.8 L837.2,477.7 L838.4,477.4 L839.6,476.8 L840.8,476.6 L842.0,477.3 L843.2,477.1 L844.4,476.9 L845.6,476.5 L846.8,476.3 L848.0,476.6 L849.2,476.4 L850.4,476.3 L851.6,476.3 L852.8,476.3 L854.0,475.6 L855.2,475.6 L856.4,476.2 L857.6,476.1 L858.8,475.9 L860.0,474.8 L861.2,474.7 L862.4,474.7 L863.6,474.7 L864.8,474.7 L866.0,474.0 L867.2,474.3 L868.4,473.6 L869.6,473.4 L870.8,473.9 L872.0,473.6 L873.2,473.5 L874.4,473.1 L875.6,473.0 L876.8,472.6 L878.0,472.5 L879.2,472.8 L880.4,472.7 L881.6,471.8 L882.8,471.7 L884.0,472.2 L885.2,471.9 L886.4,471.9 L887.6,471.1 L888.8,471.2 L890.0,470.9 L890.8,471.3" fill="none" stroke="#000" stroke-width="5.5" stroke-linejoin="round"/>
<path d="M146.0,475.0 L147.2,475.0 L148.4,475.1 L149.6,474.0 L150.8,473.9 L152.0,473.6 L153.2,473.0 L154.4,471.6 L155.6,470.7 L156.8,469.5 L158.0,469.6 L159.2,467.8 L160.4,467.0 L161.6,466.8 L162.8,466.1 L164.0,466.0 L165.2,465.2 L166.4,465.4 L167.6,464.2 L168.8,464.1 L170.0,464.2 L171.2,463.2 L172.4,463.1 L173.6,463.3 L174.8,462.9 L176.0,462.2 L177.2,462.3 L178.4,462.8 L179.6,463.5 L180.8,463.3 L182.0,463.2 L183.2,464.2 L184.4,463.8 L185.6,463.8 L186.8,463.3 L188.0,462.8 L189.2,461.8 L190.4,461.9 L191.6,461.0 L192.8,460.8 L194.0,460.7 L195.2,461.1 L196.4,460.8 L197.6,459.8 L198.8,459.9 L200.0,459.9 L201.2,459.9 L202.4,460.0 L203.6,460.1 L204.8,459.9 L206.0,460.4 L207.2,460.7 L208.4,460.4 L209.6,460.8 L210.8,460.7 L212.0,460.4 L213.2,461.3 L214.4,461.7 L215.6,461.2 L216.8,461.1 L218.0,461.9 L219.2,462.0 L220.4,461.9 L221.6,462.3 L222.8,461.8 L224.0,461.9 L225.2,460.9 L226.4,461.3 L227.6,461.8 L228.8,461.6 L230.0,462.2 L231.2,463.7 L232.4,464.9 L233.6,464.9 L234.8,466.6 L236.0,467.1 L237.2,468.5 L238.4,468.7 L239.6,468.6 L240.8,469.0 L242.0,470.0 L243.2,470.0 L244.4,470.4 L245.6,470.0 L246.8,470.0 L248.0,470.8 L249.2,470.5 L250.4,470.4 L251.6,470.5 L252.8,470.8 L254.0,470.9 L255.2,471.3 L256.4,470.8 L257.6,471.5 L258.8,471.4 L260.0,471.7 L261.2,471.8 L262.4,471.9 L263.6,471.9 L264.8,471.6 L266.0,470.9 L267.2,470.4 L268.4,470.2 L269.6,470.0 L270.8,469.2 L272.0,468.7 L273.2,468.0 L274.4,468.2 L275.6,468.1 L276.8,466.9 L278.0,466.2 L279.2,466.5 L280.4,467.1 L281.6,467.3 L282.8,468.4 L284.0,467.6 L285.2,468.2 L286.4,468.0 L287.6,468.2 L288.8,468.0 L290.0,466.8 L291.2,466.3 L292.4,466.3 L293.6,466.0 L294.8,466.0 L296.0,464.6 L297.2,464.2 L298.4,463.9 L299.6,463.5 L300.8,463.1 L302.0,463.3 L303.2,462.7 L304.4,461.9 L305.6,462.0 L306.8,462.2 L308.0,462.3 L309.2,463.1 L310.4,462.7 L311.6,463.2 L312.8,463.6 L314.0,463.4 L315.2,463.1 L316.4,463.8 L317.6,463.8 L318.8,463.1 L320.0,463.3 L321.2,463.7 L322.4,463.1 L323.6,462.7 L324.8,462.5 L326.0,463.5 L327.2,462.8 L328.4,461.8 L329.6,461.4 L330.8,460.9 L332.0,460.0 L333.2,460.3 L334.4,459.3 L335.6,458.1 L336.8,457.1 L338.0,456.9 L339.2,456.0 L340.4,455.8 L341.6,454.2 L342.8,452.6 L344.0,450.7 L345.2,449.5 L346.4,448.6 L347.6,447.4 L348.8,447.1 L350.0,445.6 L351.2,445.4 L352.4,445.9 L353.6,445.1 L354.8,445.6 L356.0,445.2 L357.2,446.0 L358.4,445.2 L359.6,446.2 L360.8,446.4 L362.0,446.4 L363.2,445.6 L364.4,445.9 L365.6,446.5 L366.8,445.8 L368.0,446.3 L369.2,446.3 L370.4,447.0 L371.6,446.6 L372.8,446.8 L374.0,446.0 L375.2,446.4 L376.4,445.8 L377.6,446.2 L378.8,445.0 L380.0,445.7 L381.2,444.8 L382.4,445.1 L383.6,445.0 L384.8,444.5 L386.0,445.2 L387.2,444.5 L388.4,444.4 L389.6,444.0 L390.8,444.2 L392.0,444.3 L393.2,445.0 L394.4,444.9 L395.6,445.7 L396.8,445.3 L398.0,446.0 L399.2,446.5 L400.4,447.4 L401.6,447.6 L402.8,447.8 L404.0,447.4 L405.2,448.2 L406.4,449.0 L407.6,448.8 L408.8,449.0 L410.0,448.5 L411.2,447.7 L412.4,448.5 L413.6,447.9 L414.8,446.8 L416.0,446.9 L417.2,446.2 L418.4,446.3 L419.6,446.4 L420.8,446.1 L422.0,446.1 L423.2,446.1 L424.4,446.4 L425.6,445.8 L426.8,445.7 L428.0,446.2 L429.2,445.6 L430.4,446.2 L431.6,445.6 L432.8,445.6 L434.0,445.0 L435.2,444.0 L436.4,440.7 L437.6,438.3 L438.8,435.8 L440.0,434.4 L441.2,433.7 L442.4,432.4 L443.6,431.9 L444.8,431.7 L446.0,430.6 L447.2,429.0 L448.4,428.2 L449.6,427.2 L450.8,426.1 L452.0,425.1 L453.2,423.4 L454.4,423.0 L455.6,421.1 L456.8,419.8 L458.0,418.6 L459.2,417.1 L460.4,415.3 L461.6,413.0 L462.8,411.1 L464.0,409.4 L465.2,406.9 L466.4,404.8 L467.6,402.5 L468.8,400.3 L470.0,397.5 L471.2,394.8 L472.4,392.1 L473.6,388.9 L474.8,386.7 L476.0,384.2 L477.2,382.0 L478.4,378.8 L479.6,376.5 L480.8,374.4 L482.0,372.7 L483.2,370.8 L484.4,368.5 L485.6,365.9 L486.8,364.6 L488.0,362.1 L489.2,359.1 L490.4,356.2 L491.6,353.8 L492.8,350.7 L494.0,349.5 L495.2,348.2 L496.4,346.1 L497.6,344.8 L498.8,343.3 L500.0,340.9 L501.2,339.7 L502.4,337.3 L503.6,334.7 L504.8,332.5 L506.0,330.6 L507.2,328.9 L508.4,328.9 L509.6,328.7 L510.8,329.6 L512.0,329.1 L513.2,329.4 L514.4,329.0 L515.6,329.5 L516.8,328.0 L518.0,328.5 L519.2,327.5 L520.4,328.3 L521.6,329.3 L522.8,330.0 L524.0,331.7 L525.2,332.8 L526.4,333.9 L527.6,335.4 L528.8,336.7 L530.0,339.3 L531.2,340.5 L532.4,343.0 L533.6,344.0 L534.8,346.1 L536.0,348.1 L537.2,349.0 L538.4,351.2 L539.6,352.0 L540.8,352.9 L542.0,354.1 L543.2,356.1 L544.4,357.0 L545.6,357.7 L546.8,359.0 L548.0,361.2 L549.2,363.0 L550.4,364.4 L551.6,366.4 L552.8,368.4 L554.0,369.2 L555.2,371.2 L556.4,373.3 L557.6,372.7 L558.8,372.5 L560.0,372.3 L561.2,371.7 L562.4,373.1 L563.6,373.7 L564.8,375.0 L566.0,375.6 L567.2,378.5 L568.4,380.6 L569.6,384.1 L570.8,386.3 L572.0,389.8 L573.2,391.8 L574.4,394.0 L575.6,396.8 L576.8,400.1 L578.0,402.4 L579.2,403.3 L580.4,404.1 L581.6,404.5 L582.8,405.9 L584.0,406.4 L585.2,407.0 L586.4,407.0 L587.6,407.7 L588.8,408.6 L590.0,409.9 L591.2,410.3 L592.4,411.2 L593.6,412.0 L594.8,413.4 L596.0,412.1 L597.2,411.0 L598.4,411.0 L599.6,410.5 L600.8,410.3 L602.0,410.6 L603.2,411.3 L604.4,411.3 L605.6,412.0 L606.8,411.5 L608.0,411.6 L609.2,412.1 L610.4,412.2 L611.6,412.1 L612.8,411.8 L614.0,412.8 L615.2,412.8 L616.4,412.7 L617.6,413.0 L618.8,413.3 L620.0,413.3 L621.2,413.4 L622.4,414.6 L623.6,414.9 L624.8,414.8 L626.0,416.0 L627.2,416.4 L628.4,417.7 L629.6,417.9 L630.8,419.6 L632.0,420.4 L633.2,421.9 L634.4,422.0 L635.6,423.5 L636.8,423.0 L638.0,423.7 L639.2,424.5 L640.4,423.1 L641.6,422.9 L642.8,422.6 L644.0,422.2 L645.2,421.5 L646.4,422.1 L647.6,421.1 L648.8,419.6 L650.0,418.7 L651.2,418.0 L652.4,416.2 L653.6,414.4 L654.8,413.6 L656.0,411.1 L657.2,409.5 L658.4,408.5 L659.6,407.8 L660.8,406.5 L662.0,405.4 L663.2,404.8 L664.4,404.8 L665.6,404.0 L666.8,402.3 L668.0,402.0 L669.2,400.4 L670.4,399.5 L671.6,398.1 L672.8,397.9 L674.0,396.9 L675.2,394.6 L676.4,393.7 L677.6,391.6 L678.8,391.0 L680.0,388.5 L681.2,387.1 L682.4,386.3 L683.6,383.4 L684.8,381.5 L686.0,378.9 L687.2,376.1 L688.4,372.8 L689.6,370.6 L690.8,368.0 L692.0,364.5 L693.2,361.1 L694.4,358.8 L695.6,356.7 L696.8,355.1 L698.0,352.3 L699.2,350.7 L700.4,350.3 L701.6,350.3 L702.8,350.0 L704.0,348.9 L705.2,347.8 L706.4,346.6 L707.6,344.7 L708.8,344.2 L710.0,345.0 L711.2,346.5 L712.4,346.9 L713.6,346.8 L714.8,347.3 L716.0,346.6 L717.2,347.7 L718.4,347.0 L719.6,347.2 L720.8,347.6 L722.0,347.3 L723.2,348.3 L724.4,350.9 L725.6,353.8 L726.8,357.4 L728.0,358.6 L729.2,360.3 L730.4,362.3 L731.6,363.1 L732.8,364.5 L734.0,366.5 L735.2,367.8 L736.4,370.5 L737.6,372.4 L738.8,373.0 L740.0,375.5 L741.2,378.0 L742.4,379.8 L743.6,382.6 L744.8,384.3 L746.0,386.2 L747.2,389.1 L748.4,391.6 L749.6,393.6 L750.8,396.4 L752.0,399.1 L753.2,401.8 L754.4,404.8 L755.6,408.2 L756.8,411.1 L758.0,413.1 L759.2,415.2 L760.4,415.9 L761.6,418.3 L762.8,419.7 L764.0,422.3 L765.2,424.0 L766.4,426.3 L767.6,428.8 L768.8,430.9 L770.0,433.0 L771.2,434.4 L772.4,436.8 L773.6,438.0 L774.8,439.8 L776.0,441.2 L777.2,442.0 L778.4,444.1 L779.6,445.7 L780.8,447.0 L782.0,448.8 L783.2,449.4 L784.4,450.8 L785.6,452.1 L786.8,454.0 L788.0,455.1 L789.2,456.3 L790.4,457.3 L791.6,459.2 L792.8,459.5 L794.0,461.7 L795.2,462.2 L796.4,462.7 L797.6,463.6 L798.8,463.6 L800.0,464.0 L801.2,464.8 L802.4,465.1 L803.6,466.0 L804.8,467.0 L806.0,467.5 L807.2,467.8 L808.4,468.8 L809.6,468.8 L810.8,470.3 L812.0,470.1 L813.2,470.8 L814.4,471.3 L815.6,472.5 L816.8,473.2 L818.0,473.3 L819.2,472.5 L820.4,473.0 L821.6,473.1 L822.8,473.0 L824.0,474.0 L825.2,473.0 L826.4,473.7 L827.6,474.2 L828.8,474.6 L830.0,473.8 L831.2,474.3 L832.4,474.8 L833.6,474.2 L834.8,474.6 L836.0,475.5 L837.2,474.8 L838.4,475.2 L839.6,475.3 L840.8,475.5 L842.0,475.1 L843.2,475.1 L844.4,476.3 L845.6,476.0 L846.8,476.0 L848.0,475.4 L849.2,475.5 L850.4,475.9 L851.6,475.5 L852.8,475.8 L854.0,476.4 L855.2,475.7 L856.4,475.7 L857.6,476.5 L858.8,476.1 L860.0,475.4 L861.2,475.9 L862.4,476.1 L863.6,475.4 L864.8,475.7 L866.0,476.2 L867.2,476.3 L868.4,476.0 L869.6,476.3 L870.8,475.8 L872.0,475.7 L873.2,476.2 L874.4,475.7 L875.6,476.1 L876.8,475.4 L878.0,475.6 L879.2,475.4 L880.4,475.8 L881.6,475.3 L882.8,475.3 L884.0,475.3 L885.2,475.6 L886.4,475.4 L887.6,475.6 L888.8,476.2 L890.0,475.8 L890.8,476.0" fill="none" stroke="#ff0000" stroke-width="6.5" stroke-linejoin="round"/>
</svg></body></html>
